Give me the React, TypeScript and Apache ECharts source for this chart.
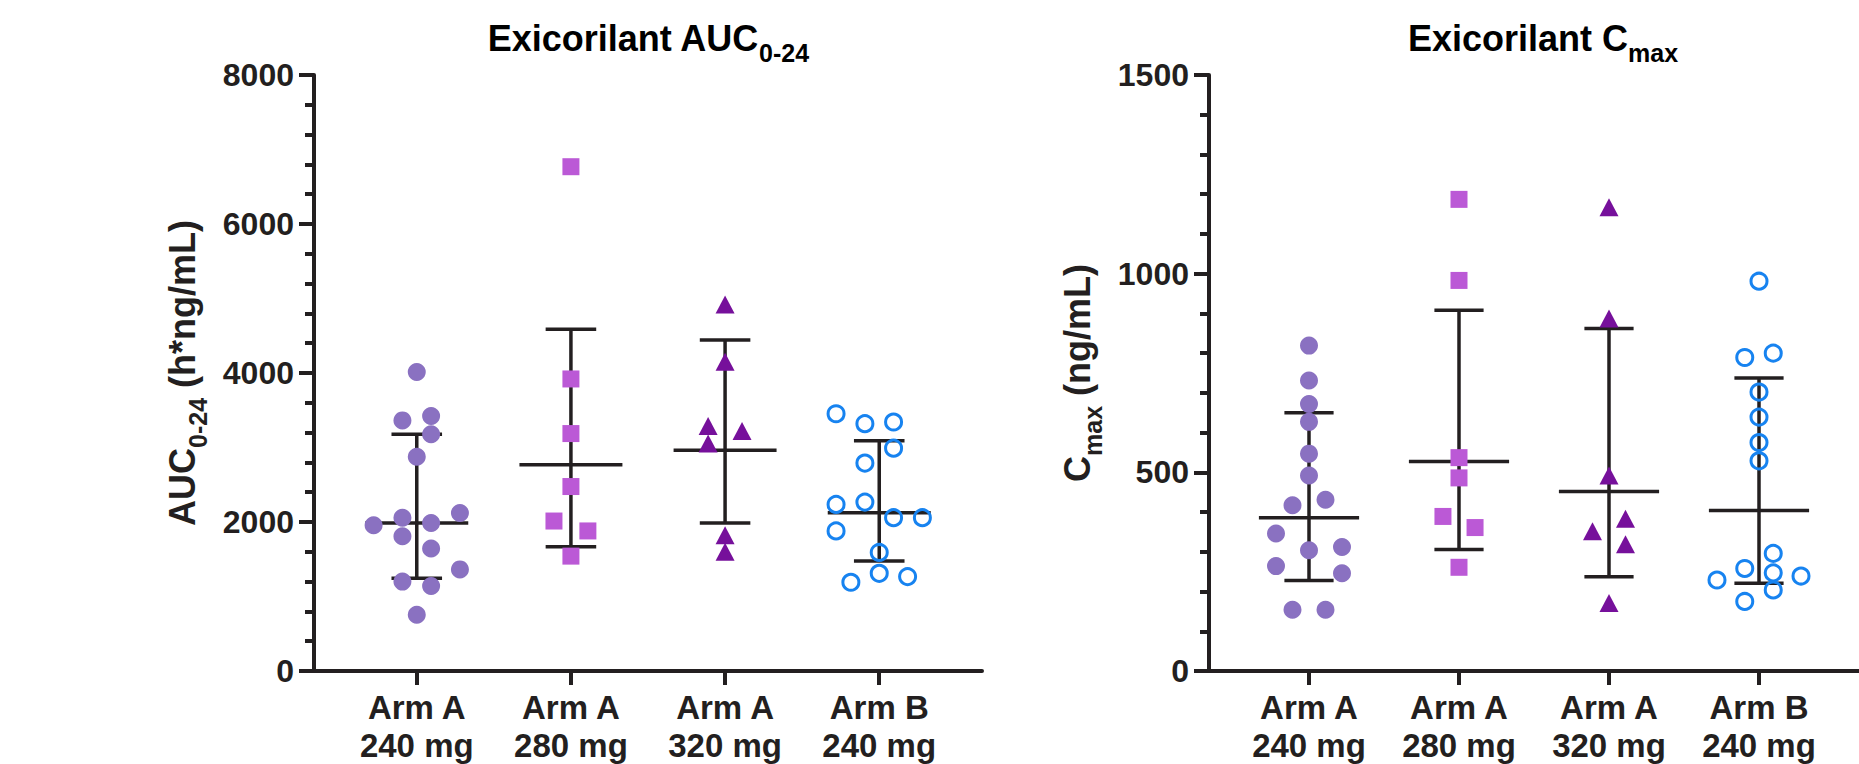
import React, { useEffect, useRef } from "react";
import * as echarts from "echarts";

// ---------- data ----------
const CATEGORIES = ["Arm A\n240 mg", "Arm A\n280 mg", "Arm A\n320 mg", "Arm B\n240 mg"];

// AUC0-24 (h*ng/mL) individual values and horizontal scatter offsets (category units)
const aucArmA240 = [4013, 3364, 3422, 3178, 2876, 1956, 2058, 1987, 2120, 1809, 1644, 1364, 1200, 1142, 756];
const aucArmA240Jit = [0, -0.093, 0.093, 0.093, 0, -0.28, -0.093, 0.093, 0.28, -0.093, 0.093, 0.28, -0.093, 0.093, 0];
const aucArmA280 = [6769, 3920, 3187, 2476, 2013, 1880, 1542];
const aucArmA280Jit = [0, 0, 0, 0, -0.11, 0.11, 0];
const aucArmA320 = [4920, 4150, 3289, 3222, 3053, 1822, 1600];
const aucArmA320Jit = [0, 0, -0.11, 0.11, -0.11, 0, 0];
const aucArmB240 = [3453, 3320, 3342, 2991, 2791, 2236, 2267, 2058, 2058, 1880, 1591, 1311, 1267, 1191];
const aucArmB240Jit = [-0.28, -0.093, 0.093, 0.093, -0.093, -0.28, -0.093, 0.093, 0.28, -0.28, 0, 0, 0.184, -0.184];
const aucCenter = [1987, 2769, 2964, 2124];
const aucLower = [1244, 1667, 1987, 1476];
const aucUpper = [3178, 4587, 4444, 3089];

// Cmax (ng/mL)
const cmaxArmA240 = [819, 731, 672, 627, 547, 492, 431, 417, 346, 304, 312, 264, 246, 154, 154];
const cmaxArmA240Jit = [0, 0, 0, 0, 0, 0, 0.11, -0.11, -0.22, 0, 0.22, -0.22, 0.22, -0.11, 0.11];
const cmaxArmA280 = [1187, 983, 537, 486, 389, 361, 261];
const cmaxArmA280Jit = [0, 0, 0, 0, -0.107, 0.107, 0];
const cmaxArmA320 = [1167, 887, 492, 383, 352, 319, 171];
const cmaxArmA320Jit = [0, 0, 0, 0.11, -0.11, 0.11, 0];
const cmaxArmB240 = [981, 789, 800, 702, 639, 575, 529, 296, 258, 247, 239, 229, 204, 175];
const cmaxArmB240Jit = [0, -0.095, 0.095, 0, 0, 0, 0, 0.095, -0.095, 0.095, 0.28, -0.28, 0.095, -0.095];
const cmaxCenter = [386, 527, 452, 404];
const cmaxLower = [227.5, 306, 237, 221];
const cmaxUpper = [650, 908, 862, 737.5];

const aucTicks = { min: 0, max: 8000, interval: 2000 };
const cmaxTicks = { min: 0, max: 1500, interval: 500 };

// ---------- styles ----------
const FONT = "'Liberation Sans', Arial, Helvetica, sans-serif";
const INK = "#231f20";
const C1 = "#8a71c1";
const C2 = "#bb59d6";
const C3 = "#76109b";
const C4 = "#1783f0";
const MEAN_HALF = 0.334;
const CAP_HALF = 0.164;

function pts(vals: number[], jit: number[], cat: number) {
  return vals.map((v, i) => [cat + jit[i], v]);
}

function summary(center: number[], lo: number[], hi: number[]) {
  return center.map((c, i) => [i + 1, c, lo[i], hi[i]]);
}

function renderErr(params: any, api: any) {
  const x = api.value(0);
  const pc = api.coord([x, api.value(1)]);
  const pl = api.coord([x, api.value(2)]);
  const ph = api.coord([x, api.value(3)]);
  const hm = api.size([MEAN_HALF, 0])[0];
  const hc = api.size([CAP_HALF, 0])[0];
  const st = { stroke: INK, lineWidth: 3.5 };
  return {
    type: "group",
    children: [
      { type: "line", shape: { x1: pc[0], y1: pl[1], x2: pc[0], y2: ph[1] }, style: st },
      { type: "line", shape: { x1: pc[0] - hm, y1: pc[1], x2: pc[0] + hm, y2: pc[1] }, style: st },
      { type: "line", shape: { x1: pc[0] - hc, y1: pl[1], x2: pc[0] + hc, y2: pl[1] }, style: st },
      { type: "line", shape: { x1: pc[0] - hc, y1: ph[1], x2: pc[0] + hc, y2: ph[1] }, style: st },
    ],
  };
}

const richMain = {
  m: { fontSize: 36, fontWeight: "bold", fontFamily: FONT, color: INK },
  s: { fontSize: 25, fontWeight: "bold", fontFamily: FONT, color: INK, padding: [30, 0, 0, 0] },
};

function xAxisCfg(gridIndex: number) {
  return {
    type: "value",
    gridIndex,
    min: 1 / 3,
    max: 14 / 3,
    splitLine: { show: false },
    axisLine: { show: true, lineStyle: { color: INK, width: 4 } },
    axisTick: { show: true, customValues: [1, 2, 3, 4], length: 14, lineStyle: { color: INK, width: 4 } },
    axisLabel: {
      show: true,
      customValues: [1, 2, 3, 4],
      formatter: (v: number) => CATEGORIES[Math.round(v) - 1] ?? "",
      fontSize: 33,
      fontWeight: "bold",
      fontFamily: FONT,
      color: INK,
      lineHeight: 38,
      margin: 17,
    },
  };
}

function yAxisCfg(gridIndex: number, t: any, name: string) {
  return {
    type: "value",
    gridIndex,
    min: t.min,
    max: t.max,
    interval: t.interval,
    name,
    nameLocation: "middle",
    nameGap: 104,
    nameRotate: 90,
    nameTextStyle: { rich: richMain },
    splitLine: { show: false },
    axisLine: { show: true, lineStyle: { color: INK, width: 4 } },
    axisTick: { show: true, length: 15, lineStyle: { color: INK, width: 4 } },
    minorTick: { show: true, splitNumber: 5, length: 9, lineStyle: { color: INK, width: 4 } },
    axisLabel: {
      fontSize: 32,
      fontWeight: "bold",
      fontFamily: FONT,
      color: INK,
      margin: 20,
      formatter: (v: number) => String(v),
    },
  };
}

function scatter(xi: number, data: number[][], kind: number) {
  const base: any = { type: "scatter", xAxisIndex: xi, yAxisIndex: xi, data, z: 5 };
  if (kind === 0) return { ...base, symbol: "circle", symbolSize: 18, itemStyle: { color: C1, opacity: 1 } };
  if (kind === 1) return { ...base, symbol: "rect", symbolSize: 17, itemStyle: { color: C2, opacity: 1 } };
  if (kind === 2) return { ...base, symbol: "triangle", symbolSize: [19, 18], itemStyle: { color: C3, opacity: 1 } };
  return {
    ...base,
    symbol: "circle",
    symbolSize: 16,
    itemStyle: { color: "rgba(0,0,0,0)", borderColor: C4, borderWidth: 3, opacity: 1 },
  };
}

export default function App() {
  const ref = useRef<HTMLDivElement>(null);
  useEffect(() => {
    if (!ref.current) return;
    const chart = echarts.init(ref.current, undefined, { renderer: "svg" });
    const option: any = {
      animation: false,
      backgroundColor: "#ffffff",
      textStyle: { fontFamily: FONT },
      graphic: [
        {
          type: "text",
          x: 648,
          y: 38,
          style: {
            text: "{m|Exicorilant AUC}{s|0-24}",
            rich: richMain,
            align: "center",
            verticalAlign: "middle",
          },
        },
        {
          type: "text",
          x: 1543,
          y: 38,
          style: {
            text: "{m|Exicorilant C}{s|max}",
            rich: richMain,
            align: "center",
            verticalAlign: "middle",
          },
        },
      ],
      grid: [
        { left: 314, top: 75, width: 668, height: 600 },
        { left: 1209, top: 75, width: 668, height: 600 },
      ],
      xAxis: [xAxisCfg(0), xAxisCfg(1)],
      yAxis: [
        yAxisCfg(0, aucTicks, "{m|AUC}{s|0-24}{m| (h*ng/mL)}"),
        yAxisCfg(1, cmaxTicks, "{m|C}{s|max}{m| (ng/mL)}"),
      ],
      series: [
        {
          type: "custom",
          xAxisIndex: 0,
          yAxisIndex: 0,
          z: 2,
          renderItem: renderErr,
          encode: { x: 0, y: [1, 2, 3] },
          data: summary(aucCenter, aucLower, aucUpper),
        },
        {
          type: "custom",
          xAxisIndex: 1,
          yAxisIndex: 1,
          z: 2,
          renderItem: renderErr,
          encode: { x: 0, y: [1, 2, 3] },
          data: summary(cmaxCenter, cmaxLower, cmaxUpper),
        },
        scatter(0, pts(aucArmA240, aucArmA240Jit, 1), 0),
        scatter(0, pts(aucArmA280, aucArmA280Jit, 2), 1),
        scatter(0, pts(aucArmA320, aucArmA320Jit, 3), 2),
        scatter(0, pts(aucArmB240, aucArmB240Jit, 4), 3),
        scatter(1, pts(cmaxArmA240, cmaxArmA240Jit, 1), 0),
        scatter(1, pts(cmaxArmA280, cmaxArmA280Jit, 2), 1),
        scatter(1, pts(cmaxArmA320, cmaxArmA320Jit, 3), 2),
        scatter(1, pts(cmaxArmB240, cmaxArmB240Jit, 4), 3),
      ],
    };
    chart.setOption(option);
    return () => chart.dispose();
  }, []);
  return (
    <div
      ref={ref}
      style={{ position: "fixed", left: 0, top: 0, width: 1859, height: 764, background: "#fff" }}
    />
  );
}
